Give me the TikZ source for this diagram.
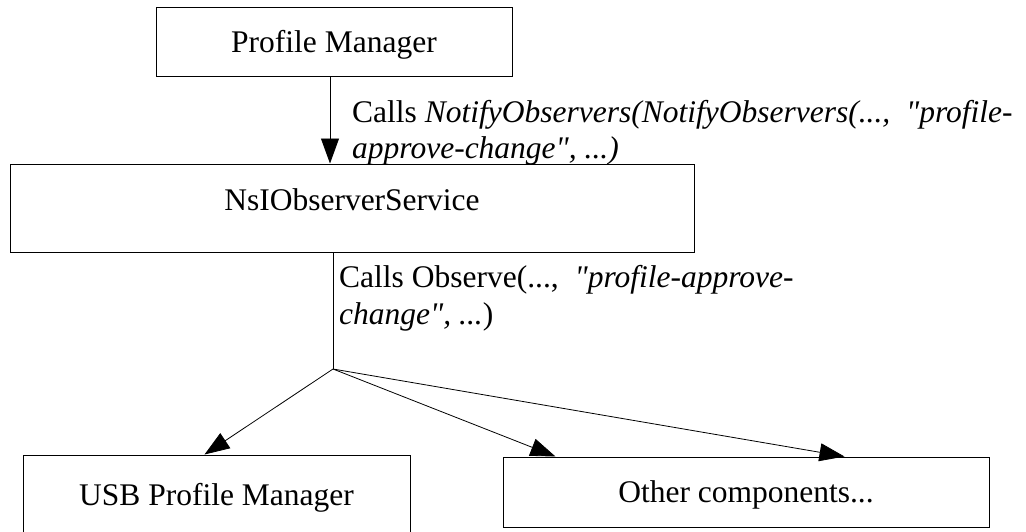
\documentclass[tikz,border=0pt]{standalone}
\usepackage{fontspec}
\setmainfont{Liberation Serif}[Ligatures=TeXOff]
\usetikzlibrary{arrows.meta}
\begin{document}
\begin{tikzpicture}[x=1pt,y=-1pt,
  box/.style={draw=black, line width=1pt, rectangle, inner sep=0pt, font=\fontsize{31.5}{36.5}\selectfont},
  arr/.style={-{Triangle[length=25pt,width=18pt]}, line width=0.8pt},
  conn/.style={line width=0.8pt},
  lbl/.style={inner sep=0pt, align=left, font=\fontsize{31.5}{36.5}\selectfont}]
\useasboundingbox (0,0) rectangle (1026,531);
\clip (0,0) rectangle (1026,531);
\node[box, minimum width=356pt, minimum height=69pt, text depth=0pt] (pm) at (334,41.5) {Profile Manager};
\node[box, minimum width=684pt, minimum height=88pt, text depth=16pt] (ns) at (352,208) {NsIObserverService};
\node[box, minimum width=387pt, minimum height=79pt, text depth=0pt] (usb) at (216.5,494.5) {USB Profile Manager};
\node[box, minimum width=486pt, minimum height=70pt, text depth=0pt] (oth) at (746,492) {Other components...};
\node[lbl, anchor=base west] (l1) at (352,158.5) {Calls \textit{NotifyObservers(NotifyObservers(...,\ \ "profile-}\\\textit{approve-change", ...)}};
\node[lbl, anchor=base west] (l2) at (339,324) {Calls Observe(...,\ \ \textit{"profile-approve-}\\\textit{change", ...})};
\coordinate (j) at (333,369);
\draw[arr] ([xshift=-4pt]pm.south) -- ([xshift=-4pt]pm.south |- ns.north);
\draw[conn] (ns.south -| j) -- (j);
\draw[arr] (j) -- ([xshift=182pt]usb.north west);
\draw[arr] (j) -- ([xshift=53pt]oth.north west);
\draw[arr] (j) -- ([xshift=342pt]oth.north west);
\end{tikzpicture}
\end{document}
